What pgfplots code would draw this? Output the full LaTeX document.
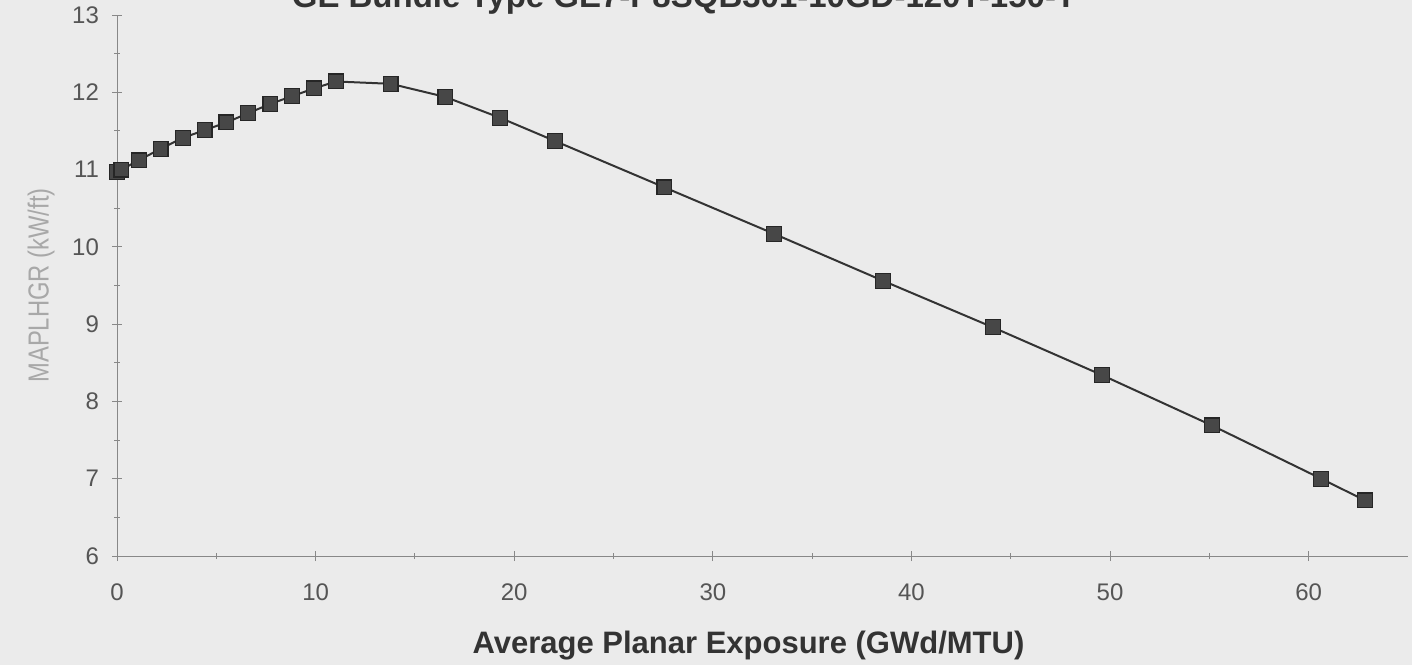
\documentclass[border=0pt]{standalone}
\usepackage{fontspec}
\setmainfont{Liberation Sans}
\newfontfamily\narrowfont[FakeStretch=0.82]{Liberation Sans}
\usepackage{pgfplots}
\pgfplotsset{compat=1.18}
\definecolor{bg}{HTML}{EBEBEB}
\definecolor{tick}{HTML}{555555}
\definecolor{ylab}{HTML}{A8A8A8}
\definecolor{ln}{HTML}{333333}
\begin{document}
\begin{tikzpicture}
\clip (0,0) rectangle (706pt,332.5pt);
\fill[bg] (0,0) rectangle (706pt,332.5pt);
\node[anchor=base, font=\bfseries\fontsize{16.5}{19}\selectfont, text=ln] at (342pt,328.5pt) {GE Bundle Type GE7-P8SQB301-10GD-120T-150-T};
\begin{axis}[
  scale only axis,
  width=645.5pt, height=270.5pt,
  at={(58.5pt,54.5pt)}, anchor=south west,
  xmin=0, xmax=65, ymin=6, ymax=13,
  axis lines=left,
  axis line style={draw=tick!70, line width=0.5pt, -},
  xtick={0,10,...,60}, ytick={6,...,13},
  minor xtick={5,15,...,55}, minor ytick={6.5,7.5,...,12.5},
  tick align=center,
  major tick length=5pt, minor tick length=3pt,
  tick style={draw=tick!70, line width=0.5pt},
  /pgf/number format/assume math mode=true,
  ticklabel style={font=\fontsize{12}{14}\selectfont, text=tick},
  xticklabel style={yshift=-8pt},
  yticklabel style={xshift=-3pt},
  xlabel={\bfseries Average Planar Exposure (GWd/MTU)},
  xlabel style={font=\fontsize{15.5}{18}\selectfont, text=ln, yshift=-8pt, xshift=-7pt},
  ylabel={MAPLHGR (kW/ft)},
  ylabel style={font=\narrowfont\fontsize{14.5}{17}\selectfont, text=ylab, yshift=2pt},
  clip=false,
]
\addplot[color=ln, line width=1pt, mark=square*, mark size=3.7pt,
  mark options={fill=ln!90, draw=black!85, line width=0.6pt}]
coordinates {
(0.00,10.97) (0.22,11.00) (1.10,11.12) (2.20,11.27) (3.31,11.41)
(4.41,11.51) (5.51,11.61) (6.61,11.73) (7.72,11.85) (8.82,11.95)
(9.92,12.05) (11.02,12.14) (13.78,12.11) (16.53,11.94) (19.29,11.67)
(22.05,11.37) (27.56,10.77) (33.07,10.17) (38.58,9.56) (44.09,8.96)
(49.60,8.34) (55.12,7.69) (60.63,7.00) (62.83,6.72)
};
\end{axis}
\end{tikzpicture}
\end{document}
